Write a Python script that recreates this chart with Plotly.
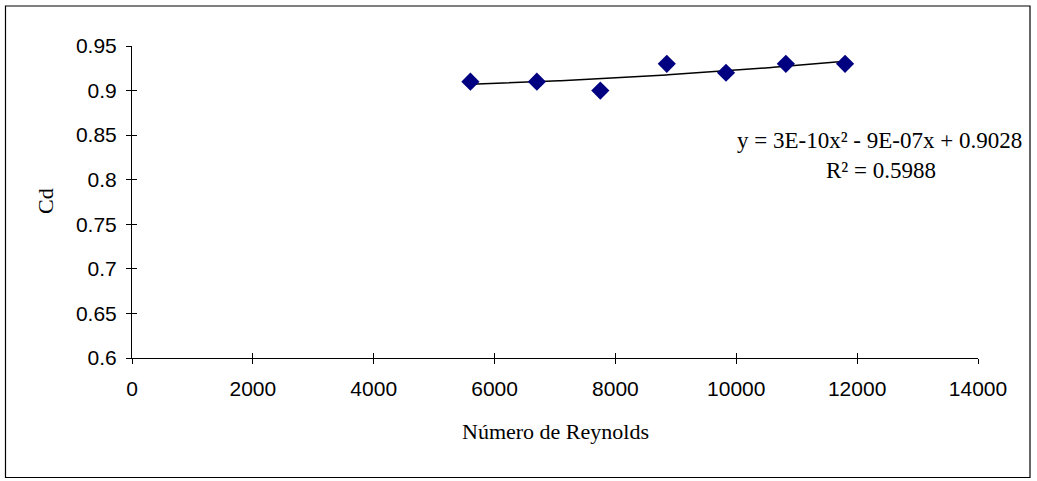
import numpy as np
import plotly.graph_objects as go

# ---- data ----
reynolds = [5600, 6700, 7750, 8850, 9830, 10820, 11800]
cd = [0.91, 0.91, 0.90, 0.93, 0.92, 0.93, 0.93]
x_ticks = [0, 2000, 4000, 6000, 8000, 10000, 12000, 14000]
y_ticks = [0.6, 0.65, 0.7, 0.75, 0.8, 0.85, 0.9, 0.95]
y_tick_text = ["0.6", "0.65", "0.7", "0.75", "0.8", "0.85", "0.9", "0.95"]
x_title = "Número de Reynolds"
y_title = "Cd"
equation_text = "y = 3E-10x² - 9E-07x + 0.9028"
r2_text = "R² = 0.5988"

# ---- layout geometry ----
W, H = 1037, 481
ML, MR, MT, MB = 132, 59, 46, 123
PW, PH = W - ML - MR, H - MT - MB

def px_x(p):
    return (p - ML) / PW

def px_y(p):
    return (H - MB - p) / PH

# polynomial trendline (order 2) fitted to the data
coef = np.polyfit(reynolds, cd, 2)
xl = np.linspace(min(reynolds), max(reynolds), 200)
yl = np.polyval(coef, xl)

sans = "Liberation Sans, Arial, sans-serif"
serif = "Liberation Serif, Times New Roman, serif"

fig = go.Figure()
fig.add_trace(go.Scatter(x=xl, y=yl, mode="lines",
                         line=dict(color="black", width=1.5),
                         hoverinfo="skip", showlegend=False))
fig.add_trace(go.Scatter(x=reynolds, y=cd, mode="markers",
                         marker=dict(symbol="diamond", size=14, color="#000080",
                                     line=dict(width=0)),
                         showlegend=False))

axis_common = dict(showgrid=False, zeroline=False, color="black")
fig.update_layout(
    width=W, height=H,
    margin=dict(l=ML, r=MR, t=MT, b=MB, pad=0),
    paper_bgcolor="white", plot_bgcolor="white",
    xaxis=dict(range=[0, 14000], tickvals=x_ticks, ticktext=[str(v) for v in x_ticks],
               ticks="outside", ticklen=5, tickcolor="black", tickwidth=1,
               showline=True, linecolor="black", linewidth=1,
               tickfont=dict(family=sans, size=21, color="black"),
               ticklabelstandoff=7, **axis_common),
    yaxis=dict(range=[0.6, 0.95], tickvals=y_ticks, ticktext=y_tick_text,
               ticks="outside", ticklen=5, tickcolor="black", tickwidth=1,
               showline=True, linecolor="black", linewidth=1,
               tickfont=dict(family=sans, size=21, color="black"),
               ticklabelstandoff=5, **axis_common),
    xaxis2=dict(range=[0, 14000], tickvals=x_ticks, overlaying="x", anchor="y",
                side="bottom", ticks="inside", ticklen=5, tickcolor="black",
                showticklabels=False, showline=False, **axis_common),
    yaxis2=dict(range=[0.6, 0.95], tickvals=y_ticks, overlaying="y", anchor="x",
                side="left", ticks="inside", ticklen=5, tickcolor="black",
                showticklabels=False, showline=False, **axis_common),
    shapes=[dict(type="rect", xref="paper", yref="paper",
                 x0=px_x(5.5), x1=px_x(1030), y0=px_y(477.5), y1=px_y(6),
                 line=dict(color="black", width=1.2), fillcolor="rgba(0,0,0,0)")],
    annotations=[
        dict(text=x_title, xref="paper", yref="paper", x=px_x(555), y=px_y(431),
             xanchor="center", yanchor="middle", showarrow=False,
             font=dict(family=serif, size=22, color="black")),
        dict(text=y_title, xref="paper", yref="paper", x=px_x(45), y=px_y(201),
             xanchor="center", yanchor="middle", showarrow=False, textangle=-90,
             font=dict(family=serif, size=22, color="black")),
        dict(text=equation_text, xref="paper", yref="paper", x=px_x(879), y=px_y(140),
             xanchor="center", yanchor="middle", showarrow=False,
             font=dict(family=serif, size=23, color="black")),
        dict(text=r2_text, xref="paper", yref="paper", x=px_x(881), y=px_y(170),
             xanchor="center", yanchor="middle", showarrow=False,
             font=dict(family=serif, size=23, color="black")),
    ],
)
# dummy trace so overlay axes render
fig.add_trace(go.Scatter(x=[None], y=[None], xaxis="x2", yaxis="y2",
                         showlegend=False, hoverinfo="skip"))

fig.write_html("out.html")
